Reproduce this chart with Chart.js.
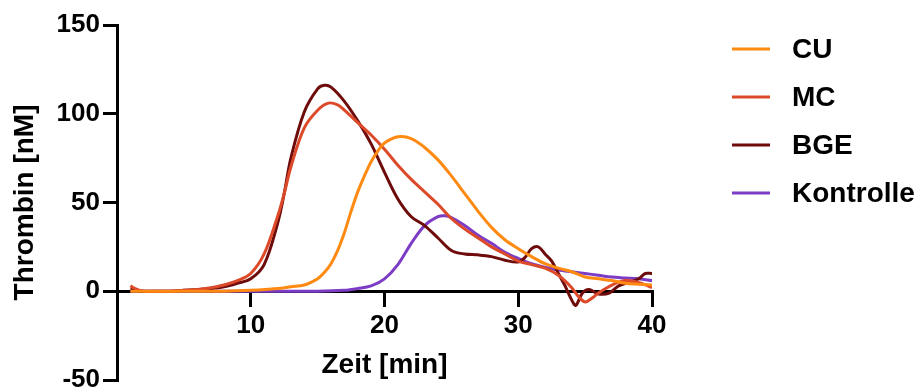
<!DOCTYPE html>
<html>
<head>
<meta charset="utf-8">
<script src="https://cdn.jsdelivr.net/npm/chart.js@4.4.1/dist/chart.umd.min.js"></script>
<style>
  body { margin: 0; background: #fff; }
</style>
</head>
<body>
<canvas id="thrombin_canvas" width="921" height="390"></canvas>
<script>
// series names
var seriesNames = ['CU', 'MC', 'BGE', 'Kontrolle'];
var seriesColors = ['#FF8A12', '#DC4A2A', '#6E0B0B', '#7C3CC6'];

// time [min] / thrombin [nM]
var cuTime = [1, 3, 5, 8, 10, 12, 13, 14, 14.5, 15, 15.5, 16, 16.5, 17, 17.5, 18, 18.5, 19, 19.5, 20, 21, 22, 23, 24, 25, 26, 27, 28, 29, 30, 31, 32, 33, 34, 35, 36, 37, 38, 39, 40];
var cuValues = [0, 0, 0, 0, 0.5, 1.5, 2.5, 3.5, 5, 7, 10.5, 15.5, 23, 33, 45, 56, 65, 73, 79, 83.5, 87, 86, 81, 74, 65, 55, 45, 36, 29, 24, 19.5, 15.5, 13, 11, 8, 7, 6, 4.5, 4, 3.5];

var mcTime = [1, 1.5, 2, 3, 4, 5, 6, 7, 8, 9, 10, 11, 12, 12.5, 13, 14, 15, 15.8, 16.5, 17, 18, 19, 20, 21, 22, 23, 24, 25, 26, 27, 28, 29, 30, 31, 32, 33, 34, 34.5, 35, 35.5, 36, 37, 38, 39, 40];
var mcValues = [3, 1, 0, 0, 0, 0.5, 1, 2, 3.5, 6, 10, 21, 42, 55, 70, 92, 102, 106, 105, 102, 95, 88, 80, 71, 63, 56, 49, 41, 35, 30, 25, 21, 17, 15, 13, 9, 2, -3, -6, -4, -1, 3.5, 6, 5, 2];

var bgeTime = [1, 2, 3, 4, 5, 6, 7, 8, 9, 10, 11, 12, 12.5, 13, 14, 15, 15.5, 16, 17, 18, 19, 20, 21, 22, 23, 24, 25, 26, 27, 28, 29, 30, 30.5, 31, 31.5, 32, 32.5, 33, 33.5, 34, 34.3, 34.8, 35.3, 36, 36.8, 37.5, 38.5, 39, 39.5, 40];
var bgeValues = [1, 0, 0, 0, 0.5, 1, 1.5, 2.5, 4.5, 7, 15, 38, 55, 75, 101, 114, 116, 115, 107, 96, 83, 67, 52, 42, 37, 30, 23, 21, 20.5, 19.5, 17.5, 16.5, 19, 24, 25, 21, 17, 10, 3, -5, -8, -1, 1, -1.5, -1, 3, 5.5, 7, 10, 10];

var kontrolleTime = [1, 5, 10, 15, 17, 18, 19, 20, 21, 22, 23, 24, 24.5, 25, 26, 27, 28, 29, 30, 31, 32, 33, 34, 35, 36, 37, 38, 39, 40];
var kontrolleValues = [0, 0, 0, 0, 0.5, 1.5, 3, 7, 15, 27, 37, 42, 42.5, 41.5, 37, 31.5, 27, 22, 18.5, 15.5, 13.5, 12, 11, 10, 9, 8, 7.5, 7, 6];

// axis ticks
var xTicks = [10, 20, 30, 40];
var yTicks = [-50, 0, 50, 100, 150];

function toPoints(t, v) {
    var pts = [];
    for (var i = 0; i < t.length; i++) {
        pts.push({x: t[i], y: v[i]});
    }
    return pts;
}

var allTimes = [cuTime, mcTime, bgeTime, kontrolleTime];
var allValues = [cuValues, mcValues, bgeValues, kontrolleValues];

var datasets = [];
for (var i = 0; i < seriesNames.length; i++) {
    datasets.push({
        label: seriesNames[i],
        data: toPoints(allTimes[i], allValues[i]),
        borderColor: seriesColors[i],
        backgroundColor: seriesColors[i],
        borderWidth: 3,
        pointRadius: 0,
        fill: false,
        tension: 0.35
    });
}

var fontFam = '"Liberation Sans", Arial, Helvetica, sans-serif';

// legend drawn as short lines with labels, right of the plot
var lineLegend = {
    id: 'lineLegend',
    afterDraw: function(chart) {
        var ctx = chart.ctx;
        ctx.save();
        ctx.font = 'bold 28px ' + fontFam;
        ctx.textBaseline = 'middle';
        ctx.textAlign = 'left';
        chart.data.datasets.forEach(function(ds, i) {
            var y = 49 + i * 48;
            ctx.strokeStyle = ds.borderColor;
            ctx.lineWidth = 3;
            ctx.beginPath();
            ctx.moveTo(732, y);
            ctx.lineTo(770, y);
            ctx.stroke();
            ctx.fillStyle = '#000';
            ctx.fillText(ds.label, 792, y + 1);
        });
        ctx.restore();
    }
};

var ctx1 = document.getElementById('thrombin_canvas');

var chart = new Chart(ctx1, {
    type: 'line',
    data: { datasets: datasets },
    plugins: [lineLegend],
    options: {
        responsive: false,
        animation: false,
        layout: { padding: { top: 25, right: 269, bottom: 10, left: 0 } },
        plugins: {
            legend: { display: false },
            tooltip: { enabled: false }
        },
        scales: {
            x: {
                type: 'linear',
                min: 0,
                max: 40,
                position: { y: 0 },
                afterBuildTicks: function(scale) {
                    scale.ticks = xTicks.map(function(v) { return {value: v}; });
                },
                afterFit: function(scale) {
                    scale.height = 0;
                    scale.paddingLeft = 0;
                    scale.paddingRight = 0;
                },
                border: { color: '#000', width: 3 },
                grid: { drawOnChartArea: false, color: '#000', lineWidth: 3, tickLength: 14 },
                ticks: {
                    color: '#000',
                    padding: 5,
                    maxRotation: 0,
                    font: { family: fontFam, size: 26, weight: 'bold' }
                },
                title: {
                    display: true,
                    text: 'Zeit [min]',
                    color: '#000',
                    padding: { top: 0, bottom: -91 },
                    font: { family: fontFam, size: 28, weight: 'bold' }
                }
            },
            y: {
                min: -50,
                max: 150,
                afterBuildTicks: function(scale) {
                    scale.ticks = yTicks.map(function(v) { return {value: v}; });
                },
                afterFit: function(scale) {
                    scale.width = 117;
                    scale.paddingTop = 0;
                    scale.paddingBottom = 0;
                },
                border: { color: '#000', width: 3 },
                grid: { drawOnChartArea: false, color: '#000', lineWidth: 3, tickLength: 14 },
                ticks: {
                    color: '#000',
                    padding: 3,
                    font: { family: fontFam, size: 26, weight: 'bold' }
                },
                title: {
                    display: true,
                    text: 'Thrombin [nM]',
                    color: '#000',
                    padding: { top: 8, bottom: 0 },
                    font: { family: fontFam, size: 28, weight: 'bold' }
                }
            }
        }
    }
});
</script>
</body>
</html>
